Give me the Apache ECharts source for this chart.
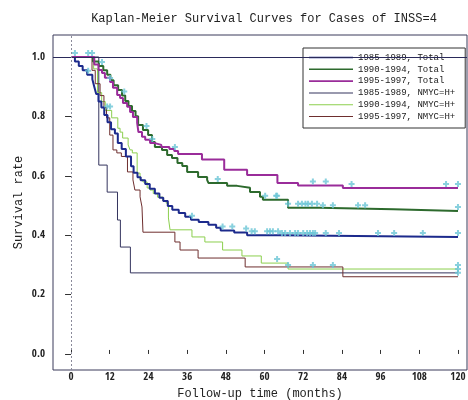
<!DOCTYPE html>
<html>
<head>
<meta charset="utf-8">
<script src="https://cdn.jsdelivr.net/npm/echarts@6/dist/echarts.min.js"></script>
<style>
  html, body { margin: 0; padding: 0; background: #fff; }
  #chart { width: 468px; height: 400px; }
</style>
</head>
<body>
<div id="chart"></div>
<script>
// Kaplan-Meier step curves: [month, survival rate]
const total8589 = [[0,1],[1.2,0.985],[2.4,0.97],[3.6,0.955],[5,0.94],[6.6,0.925],[7.2,0.90],[7.8,0.875],[8.5,0.85],[9.4,0.83],[10.3,0.805],[11.3,0.78],[12.4,0.757],[13.6,0.742],[14.5,0.71],[15.7,0.69],[17,0.665],[18.6,0.632],[19.4,0.61],[20.6,0.595],[21.6,0.585],[23,0.572],[24.4,0.556],[26,0.54],[27.4,0.526],[28.6,0.515],[30,0.498],[31.4,0.486],[33.4,0.475],[35.4,0.462],[37.2,0.452],[39.6,0.444],[42.6,0.435],[45,0.425],[46.4,0.416],[50.6,0.409],[54.6,0.4],[64.8,0.394],[120,0.394]];
const total9094 = [[0,1],[6.8,0.985],[8.6,0.97],[10,0.955],[11.2,0.94],[12.2,0.922],[13.2,0.905],[14.6,0.889],[15.8,0.87],[16.8,0.852],[17.8,0.835],[18.9,0.818],[20,0.80],[20.8,0.771],[22.3,0.754],[23.9,0.737],[25.1,0.714],[26,0.697],[28.2,0.687],[29.8,0.67],[31.3,0.66],[33,0.643],[34.5,0.633],[36,0.613],[39.4,0.596],[42.2,0.586],[42.6,0.576],[48.4,0.566],[51.5,0.56],[55.5,0.545],[58.6,0.529],[59.5,0.519],[67.3,0.492],[77,0.487],[100,0.481],[120,0.481]];
const total9597 = [[0,1],[7.2,0.975],[8.5,0.956],[9.6,0.946],[10.5,0.93],[12.1,0.916],[13,0.896],[14.3,0.872],[15.2,0.862],[16.1,0.845],[17.4,0.832],[18.3,0.815],[19.2,0.798],[20.5,0.778],[20.9,0.747],[22,0.731],[23,0.721],[24.5,0.71],[26,0.704],[28,0.697],[30.5,0.69],[32,0.683],[33.2,0.673],[40.6,0.655],[47.5,0.62],[54.6,0.603],[64,0.576],[70.4,0.567],[84.3,0.559],[120,0.559]];
const nmyc8589 = [[0,1],[8.6,0.636],[11.2,0.545],[14.4,0.451],[15.3,0.36],[18.4,0.273],[120,0.273]];
const nmyc9094 = [[0,1],[7,0.96],[8.2,0.88],[9.5,0.85],[10.6,0.82],[12.6,0.795],[14.5,0.76],[15.2,0.747],[16,0.727],[17.7,0.704],[18.3,0.687],[19,0.677],[20.5,0.609],[21.4,0.586],[22.3,0.579],[23.6,0.559],[24.5,0.552],[25.5,0.54],[26.8,0.528],[28.5,0.515],[29.5,0.508],[30.2,0.458],[30.7,0.418],[37.5,0.394],[41.5,0.377],[47,0.35],[53,0.33],[59,0.306],[67.3,0.286],[120,0.286]];
const nmyc9597 = [[0,1],[6.5,0.955],[7.5,0.91],[9,0.87],[10.2,0.83],[11,0.795],[12,0.737],[13,0.687],[14.2,0.677],[15.6,0.665],[17.5,0.613],[19.2,0.586],[19.8,0.552],[21.4,0.529],[22,0.495],[22.3,0.41],[32.2,0.377],[33.8,0.35],[39.4,0.323],[54,0.293],[84.3,0.26],[120,0.26]];

// Censoring times (months) for each group
const cens8589Total = [5.3,37.5,47,50,54.3,56,57,60.8,61.7,62.6,64.2,65.4,66.4,67.9,69.5,70.4,72,73.2,74.1,75,75.7,79,83.1,95.2,100.2,109.1,120];
const cens9094Total = [1.2,9.6,16.5,23.4,45.5,60.2,63.6,63.9,67.3,70.4,71.6,72.7,73.5,74.7,76.3,78.1,81.2,89,91.2,120];
const cens9597Total = [5.3,12.1,25.2,32.2,75,79,87,116.3,120];
const cens8589Nmyc = [120];
const cens9094Nmyc = [6.5,11.2,12.1,63.9,67.3,75,81.2,120];
const cens9597Nmyc = [120];

// Axis ticks
const monthTicks = [0,12,24,36,48,60,72,84,96,108,120];
const rateTicks = [0,0.2,0.4,0.6,0.8,1.0];

const groups = [
  { name: '1985-1989, Total',   curve: total8589, cens: cens8589Total, color: '#1c2a8c', width: 2 },
  { name: '1990-1994, Total',   curve: total9094, cens: cens9094Total, color: '#2d6a2d', width: 2 },
  { name: '1995-1997, Total',   curve: total9597, cens: cens9597Total, color: '#9a2c9a', width: 2 },
  { name: '1985-1989, NMYC=H+', curve: nmyc8589,  cens: cens8589Nmyc,  color: '#34345e', width: 1 },
  { name: '1990-1994, NMYC=H+', curve: nmyc9094,  cens: cens9094Nmyc,  color: '#8ccf4e', width: 1 },
  { name: '1995-1997, NMYC=H+', curve: nmyc9597,  cens: cens9597Nmyc,  color: '#6e2e2e', width: 1 }
];

function survivalAt(curve, t) {
  let v = 1;
  for (const [m, s] of curve) { if (m <= t) v = s; }
  return v;
}

const MONO = "'Liberation Mono','DejaVu Sans Mono',monospace";
const NARROW = "'Open Sans Condensed','Roboto Condensed','DejaVu Sans Condensed',sans-serif";
const PLUS = 'path://M2,0H4V2H6V4H4V6H2V4H0V2H2Z';

const series = [];
groups.forEach((g, i) => {
  series.push({
    name: g.name, type: 'line', step: 'end', symbol: 'none',
    data: g.curve,
    lineStyle: { color: g.color, width: g.width },
    itemStyle: { color: g.color },
    z: 3 + (g.width > 1 ? 1 : 0),
    markLine: i === 0 ? {
      silent: true, symbol: 'none', label: { show: false },
      data: [
        { yAxis: 1, lineStyle: { color: '#2a2a5a', width: 1, type: 'solid' } },
        { xAxis: 0, lineStyle: { color: '#8a8a9a', width: 1, type: [2, 2] } }
      ]
    } : undefined
  });
});
groups.forEach(g => {
  series.push({
    type: 'scatter', symbol: PLUS, symbolSize: 6, symbolOffset: [0, -4],
    data: g.cens.map(t => [t, survivalAt(g.curve, t)]),
    itemStyle: { color: '#6cc6d6' }, z: 6, silent: true
  });
});

const chart = echarts.init(document.getElementById('chart'), null, { renderer: 'canvas' });
chart.setOption({
  animation: false,
  backgroundColor: '#ffffff',
  title: {
    text: 'Kaplan-Meier Survival Curves for Cases of INSS=4',
    left: 259, top: 8, textAlign: 'center',
    textStyle: { fontFamily: MONO, fontSize: 12, fontWeight: 'normal', color: '#222' }
  },
  legend: {
    orient: 'vertical', left: 303, top: 48,
    data: groups.map(g => ({ name: g.name, icon: g.width > 1 ? 'path://M0,0H44V1.6H0Z' : 'path://M0,0H44V1H0Z' })),
    itemWidth: 44, itemHeight: 10, itemGap: 2.8,
    padding: [5, 10, 7, 6],
    backgroundColor: '#fff', borderColor: '#333', borderWidth: 1,
    textStyle: { fontFamily: MONO, fontSize: 9, color: '#222' }
  },
  grid: { left: 53, right: 1, top: 35, bottom: 30, outerBoundsMode: 'none',
    show: true, borderColor: '#3a3a5a', borderWidth: 1, backgroundColor: 'transparent' },
  xAxis: {
    type: 'value', min: -5.6, max: 122.8,
    name: 'Follow-up time (months)', nameLocation: 'middle', nameGap: 18, nameMoveOverlap: false,
    nameTextStyle: { fontFamily: MONO, fontSize: 12, color: '#222' },
    axisLine: { show: false },
    axisTick: { show: true, inside: true, length: 4, customValues: monthTicks, lineStyle: { color: '#333' } },
    axisLabel: { customValues: monthTicks, margin: 2, fontFamily: NARROW, fontSize: 11, color: '#222' },
    splitLine: { show: false }
  },
  yAxis: {
    type: 'value', min: -0.054, max: 1.074,
    name: 'Survival rate', nameLocation: 'middle', nameGap: 28, nameRotate: 90, nameMoveOverlap: false,
    nameTextStyle: { fontFamily: MONO, fontSize: 12, color: '#222' },
    axisLine: { show: false },
    axisTick: { show: true, inside: false, length: 6, customValues: rateTicks, lineStyle: { color: '#333' } },
    axisLabel: { customValues: rateTicks, margin: 8, fontFamily: NARROW, fontSize: 11, color: '#222',
      formatter: v => v.toFixed(1) },
    splitLine: { show: false }
  },
  series: series
});
</script>
</body>
</html>
